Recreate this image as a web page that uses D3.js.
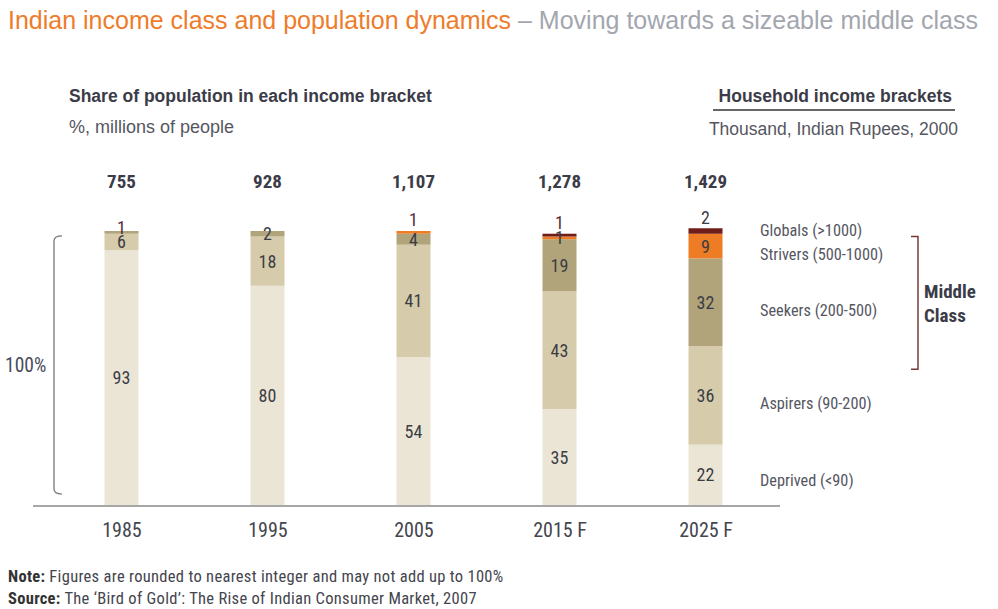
<!DOCTYPE html>
<html>
<head>
<meta charset="utf-8">
<script src="https://cdn.jsdelivr.net/npm/d3@7"></script>
<style>
body{margin:0;background:#fff;}
text{font-family:"Liberation Sans",Arial,sans-serif;}
.narrow{font-family:"Liberation Sans Narrow","Arial Narrow","Roboto Condensed","Liberation Sans",sans-serif;}
</style>
</head>
<body>
<div id="chart"></div>
<script>
// data
var years = ["1985", "1995", "2005", "2015 F", "2025 F"];
var totals = ["755", "928", "1,107", "1,278", "1,429"];
var brackets = ["Deprived (<90)", "Aspirers (90-200)", "Seekers (200-500)", "Strivers (500-1000)", "Globals (>1000)"];
var deprived = [93, 80, 54, 35, 22];
var aspirers = [6, 18, 41, 43, 36];
var seekers = [1, 2, 4, 19, 32];
var strivers = [0, 0, 1, 1, 9];
var globals = [0, 0, 0, 1, 2];
var colors = ["#ebe5d6", "#d6ccac", "#b1a47b", "#ee7c24", "#6e1d19"];

var series = [deprived, aspirers, seekers, strivers, globals];

var svg = d3.select("#chart").append("svg")
	.attr("width", 998)
	.attr("height", 609);

var x = d3.scalePoint().domain(years).range([121.5, 705.5]);
var y = d3.scaleLinear().domain([0, 100]).range([505, 231]);
var barW = 34;

// titles
var t = svg.append("text").attr("x", 8).attr("y", 29).style("font-size", "25px");
t.append("tspan").attr("fill", "#ee7c2a").text("Indian income class and population dynamics");
t.append("tspan").attr("fill", "#a3a6ae").text(" \u2013 Moving towards a sizeable middle class");

svg.append("text").attr("x", 69).attr("y", 102)
	.style("font-size", "17.5px").style("font-weight", "bold").attr("fill", "#3b3c48")
	.text("Share of population in each income bracket");
svg.append("text").attr("x", 69).attr("y", 133)
	.style("font-size", "18px").attr("fill", "#55565f")
	.text("%, millions of people");

svg.append("text").attr("x", 952).attr("y", 102).attr("text-anchor", "end")
	.style("font-size", "17.5px").style("font-weight", "bold").attr("fill", "#3b3c48")
	.text("Household income brackets");
svg.append("line").attr("x1", 713).attr("x2", 955).attr("y1", 110).attr("y2", 110)
	.style("stroke", "#333").style("stroke-width", 1.5);
svg.append("text").attr("x", 958).attr("y", 135).attr("text-anchor", "end")
	.style("font-size", "17.5px").attr("fill", "#55565f")
	.text("Thousand, Indian Rupees, 2000");

// stacked bars
years.forEach(function(yr, i){
	var base = 0;
	var segs = [];
	series.forEach(function(s, k){
		if(s[i] > 0) segs.push({k:k, v:s[i], y0:base, y1:base+s[i]});
		base += s[i];
	});
	var g = svg.append("g");
	g.selectAll("rect").data(segs).enter().append("rect")
		.attr("x", x(yr) - barW/2)
		.attr("width", barW)
		.attr("y", function(d){return y(d.y1);})
		.attr("height", function(d){return y(d.y0) - y(d.y1);})
		.style("fill", function(d){return colors[d.k];});
	g.selectAll("text").data(segs).enter().append("text")
		.attr("class", "narrow")
		.attr("x", x(yr))
		.attr("y", function(d, j){
			var c = (y(d.y0) + y(d.y1))/2;
			// small top value goes above the bar when the stack is crowded
			if(j == segs.length-1 && d.v <= 2 && segs.length > 3) c = y(d.y1) - 11;
			if(j == segs.length-1 && d.v <= 1 && segs.length <= 3) c = y(d.y1) - 3;
			return c;
		})
		.attr("dy", "0.36em")
		.attr("text-anchor", "middle")
		.style("font-size", "18px")
		.attr("fill", function(d, j){return (j == segs.length-1 && d.v <= 1) ? "#5a2a3a" : "#3b3c44";})
		.text(function(d){return d.v;});
	svg.append("text").attr("class", "narrow")
		.attr("x", x(yr)).attr("y", 188)
		.attr("text-anchor", "middle")
		.style("font-size", "19px").style("font-weight", "bold").attr("fill", "#3b3c48")
		.text(totals[i]);
});

// axis line and year labels
svg.append("line").attr("x1", 33).attr("x2", 780).attr("y1", 506).attr("y2", 506)
	.style("stroke", "#8a8a8a").style("stroke-width", 1.5);
var xAxis = svg.append("g").attr("transform", "translate(0,511)")
	.call(d3.axisBottom(x).tickSize(0).tickPadding(12));
xAxis.select(".domain").remove();
xAxis.selectAll("text").attr("class", "narrow").style("font-size", "20px").attr("fill", "#44454d");

// legend labels beside the 2025 bar
var last = years.length - 1;
var cum = 0;
var ly = [];
series.forEach(function(s, k){
	ly.push(y(cum + s[last]/2) + 8);
	cum += s[last];
});
ly[0] -= 3;
for(var k = ly.length-1; k > 0; k--){
	if(ly[k-1] - ly[k] < 24) ly[k] = ly[k-1] - 24;
}
svg.selectAll(".leg").data(brackets).enter().append("text")
	.attr("class", "narrow")
	.attr("x", 760)
	.attr("y", function(d, k){return ly[k];})
	.attr("dy", "0.36em")
	.style("font-size", "16.3px").attr("fill", "#55565f")
	.text(function(d){return d;});

// middle class bracket
svg.append("path")
	.attr("d", "M911," + y(98) + " H918 V" + y(49.5) + " H911")
	.style("fill", "none").style("stroke", "#7a3b3b").style("stroke-width", 1.5);
svg.append("text").attr("class", "narrow").attr("x", 924).attr("y", 298)
	.style("font-size", "19px").style("font-weight", "bold").attr("fill", "#3b3c48")
	.text("Middle");
svg.append("text").attr("class", "narrow").attr("x", 924).attr("y", 322)
	.style("font-size", "19px").style("font-weight", "bold").attr("fill", "#3b3c48")
	.text("Class");

// 100% bracket on the left
svg.append("path")
	.attr("d", "M62," + y(98.2) + " Q54," + y(98.2) + " 54," + (y(98.2)+5) +
		" V" + (y(4)-5) + " Q54," + y(4) + " 62," + y(4))
	.style("fill", "none").style("stroke", "#7d7478").style("stroke-width", 1.3);
svg.append("text").attr("class", "narrow").attr("x", 5).attr("y", 372)
	.style("font-size", "19.5px").attr("fill", "#4a4a5c")
	.text("100%");

// notes
var n1 = svg.append("text").attr("class", "narrow").attr("x", 8).attr("y", 582).style("font-size", "16.5px").style("letter-spacing", "0.3px").attr("fill", "#44454d");
n1.append("tspan").style("font-weight", "bold").attr("fill", "#333").text("Note:");
n1.append("tspan").text(" Figures are rounded to nearest integer and may not add up to 100%");
var n2 = svg.append("text").attr("class", "narrow").attr("x", 8).attr("y", 604).style("font-size", "16.5px").style("letter-spacing", "0.3px").attr("fill", "#44454d");
n2.append("tspan").style("font-weight", "bold").attr("fill", "#333").text("Source:");
n2.append("tspan").text(" The \u2018Bird of Gold\u2019: The Rise of Indian Consumer Market, 2007");
</script>
</body>
</html>
